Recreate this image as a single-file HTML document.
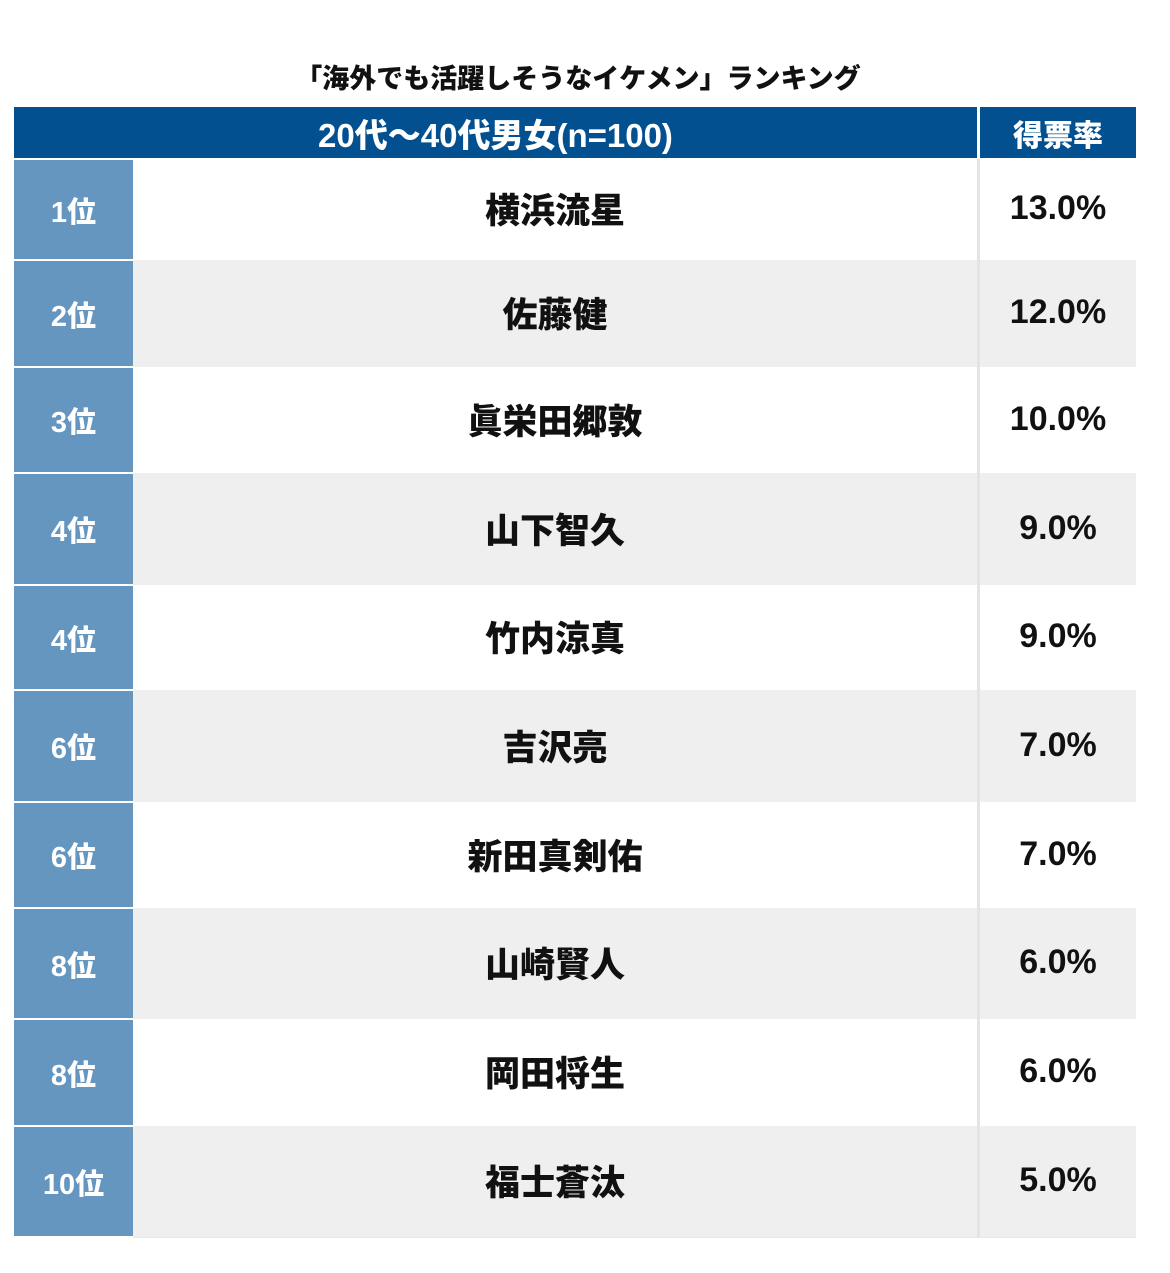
<!DOCTYPE html>
<html><head><meta charset="utf-8">
<style>
html,body{margin:0;padding:0;background:#fff;}
body{width:1170px;height:1273px;position:relative;overflow:hidden;font-family:"Liberation Sans","Noto Sans CJK JP",sans-serif;}
.abs{position:absolute;box-sizing:border-box;display:flex;align-items:center;justify-content:center;}
#title{left:0;width:1156px;top:56px;height:40px;font-size:27px;font-weight:900;color:#111;}
.hdr{background:#02508f;color:#fff;font-weight:900;top:107px;height:51px;}
.rank{background:#6596bf;color:#fff;font-weight:900;font-size:29px;}
.name{color:#111;font-weight:900;font-size:35px;}
.pct{color:#111;font-weight:900;font-size:34px;}
.bg{position:absolute;}
</style></head>
<body>
<div id="title" class="abs">「海外でも活躍しそうなイケメン」ランキング</div>
<div class="abs hdr" style="left:14px;width:963px;font-size:33px;">20代〜40代男女(n=100)</div>
<div class="abs hdr" style="left:980px;width:156px;font-size:30px;">得票率</div>
<div id="rows"></div>
<script>
const ranks=["1位","2位","3位","4位","4位","6位","6位","8位","8位","10位"];
const names=["横浜流星","佐藤健","眞栄田郷敦","山下智久","竹内涼真","吉沢亮","新田真剣佑","山崎賢人","岡田将生","福士蒼汰"];
const values=[13.0,12.0,10.0,9.0,9.0,7.0,7.0,6.0,6.0,5.0];
const tops=[159,260,367,473,585,690,802,908,1019,1126,1237];
const c=document.getElementById('rows');
for(let i=0;i<ranks.length;i++){
  const t=tops[i], h=tops[i+1]-t-2;
  const bg=document.createElement('div');
  bg.className='bg';
  
  
  bg.style.cssText=`left:133px;width:1003px;top:${t}px;height:${h+2}px;background:${i%2?'#efefef':'#fff'};border-bottom:1px solid #e6e6e6;`;
  c.appendChild(bg);
  const div=document.createElement('div');
  div.className='bg';
  
  
  div.style.cssText=`left:977px;width:3px;top:${t}px;height:${h+2}px;background:#e4e4e4;`;
  c.appendChild(div);
  const r=document.createElement('div');
  r.className='abs rank';
  
  
  r.style.cssText=`left:14px;width:119px;top:${t+1}px;height:${h}px;`;
  r.textContent=ranks[i];
  c.appendChild(r);
  const n=document.createElement('div');
  n.className='abs name';
  
  
  n.style.cssText=`left:133px;width:844px;top:${t}px;height:${h}px;`;
  n.textContent=names[i];
  c.appendChild(n);
  const p=document.createElement('div');
  p.className='abs pct';
  
  
  p.style.cssText=`left:980px;width:156px;top:${t}px;height:${h}px;`;
  p.textContent=values[i].toFixed(1)+'%';
  c.appendChild(p);
}
</script>
</body></html>
